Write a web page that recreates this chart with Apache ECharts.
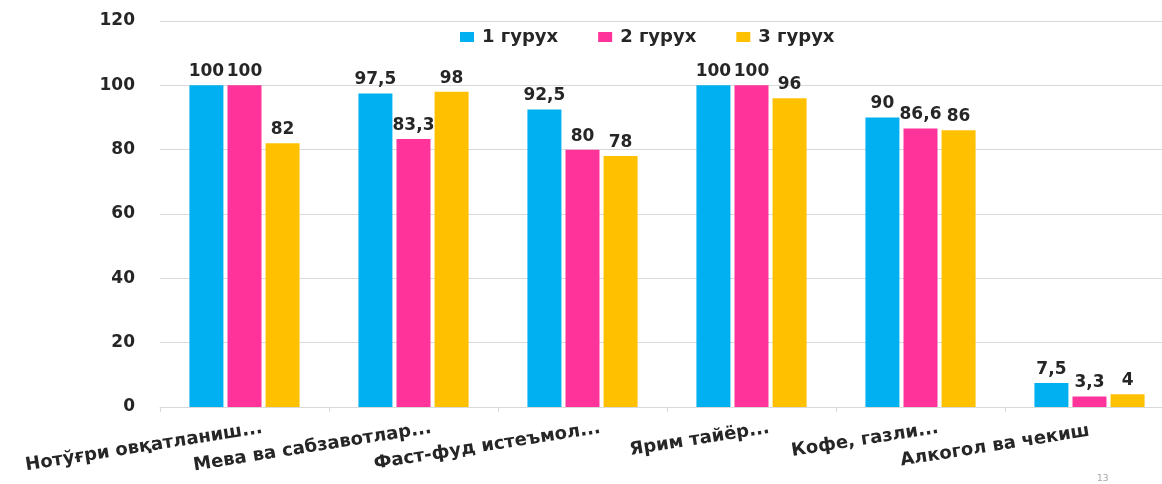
<!DOCTYPE html>
<html>
<head>
<meta charset="utf-8">
<script src="https://cdn.jsdelivr.net/npm/echarts@6/dist/echarts.min.js"></script>
<style>html,body{margin:0;padding:0;background:#fff;overflow:hidden;}#c{width:1174px;height:484px;}</style>
</head>
<body>
<div id="c"></div>
<script>
var categories = ["Нотўғри овқатланиш...", "Мева ва сабзавотлар...", "Фаст-фуд истеъмол...", "Ярим тайёр...", "Кофе, газли...", "Алкогол ва чекиш"];
var seriesNames = ["1 гурух", "2 гурух", "3 гурух"];
var group1 = [100, 97.5, 92.5, 100, 90, 7.5];
var group2 = [100, 83.3, 80, 100, 86.6, 3.3];
var group3 = [82, 98, 78, 96, 86, 4];
var yTicks = {min: 0, max: 120, interval: 20};
var pageNumber = "13";

var colors = ["#00B0F0", "#FF3399", "#FFC000"];
var font = "DejaVu Sans";
var textColor = "#262626";

function mkSeries(name, data, color) {
  return {
    name: name,
    type: "bar",
    data: data,
    barWidth: 34,
    barGap: "12%",
    itemStyle: {color: color},
    label: {
      show: true,
      position: "top",
      distance: 5,
      color: textColor,
      fontFamily: font,
      fontWeight: "bold",
      fontSize: 17,
      formatter: function (p) { return String(p.value).replace(".", ","); }
    }
  };
}

// truncated labels (ending with "...") sit a little to the right in the reference
var categoryData = categories.map(function (c) {
  var truncated = c.slice(-3) === "...";
  return {value: c, textStyle: {padding: truncated ? [0, -18, 0, 0] : [0, 0, 0, 0]}};
});

var chart = echarts.init(document.getElementById("c"), null, {renderer: "canvas"});
chart.setOption({
  animation: false,
  color: colors,
  title: {
    text: pageNumber,
    left: 1097,
    top: 474,
    padding: 0,
    textStyle: {color: "#A6A6A6", fontSize: 9, fontWeight: "normal", fontFamily: font}
  },
  legend: {
    data: seriesNames,
    left: 455,
    top: 23,
    itemWidth: 14,
    itemHeight: 10,
    itemGap: 40,
    icon: "rect",
    textStyle: {color: textColor, fontFamily: font, fontWeight: "bold", fontSize: 18, padding: [0, 0, 0, 3]}
  },
  grid: {left: 160, right: 0, top: 21, bottom: 77, containLabel: false},
  xAxis: {
    type: "category",
    data: categoryData,
    axisLine: {show: true, lineStyle: {color: "#D9D9D9", width: 1}},
    axisTick: {show: true, length: 5, lineStyle: {color: "#D9D9D9"}},
    axisLabel: {
      interval: 0,
      rotate: 9,
      margin: 24,
      color: textColor,
      fontFamily: font,
      fontWeight: "bold",
      fontSize: 18
    }
  },
  yAxis: {
    type: "value",
    min: yTicks.min,
    max: yTicks.max,
    interval: yTicks.interval,
    axisLine: {show: false},
    axisTick: {show: false},
    splitLine: {lineStyle: {color: "#D9D9D9", width: 1}},
    axisLabel: {margin: 25, color: textColor, fontFamily: font, fontWeight: "bold", fontSize: 17}
  },
  series: [
    mkSeries(seriesNames[0], group1, colors[0]),
    mkSeries(seriesNames[1], group2, colors[1]),
    mkSeries(seriesNames[2], group3, colors[2])
  ]
});
</script>
</body>
</html>
